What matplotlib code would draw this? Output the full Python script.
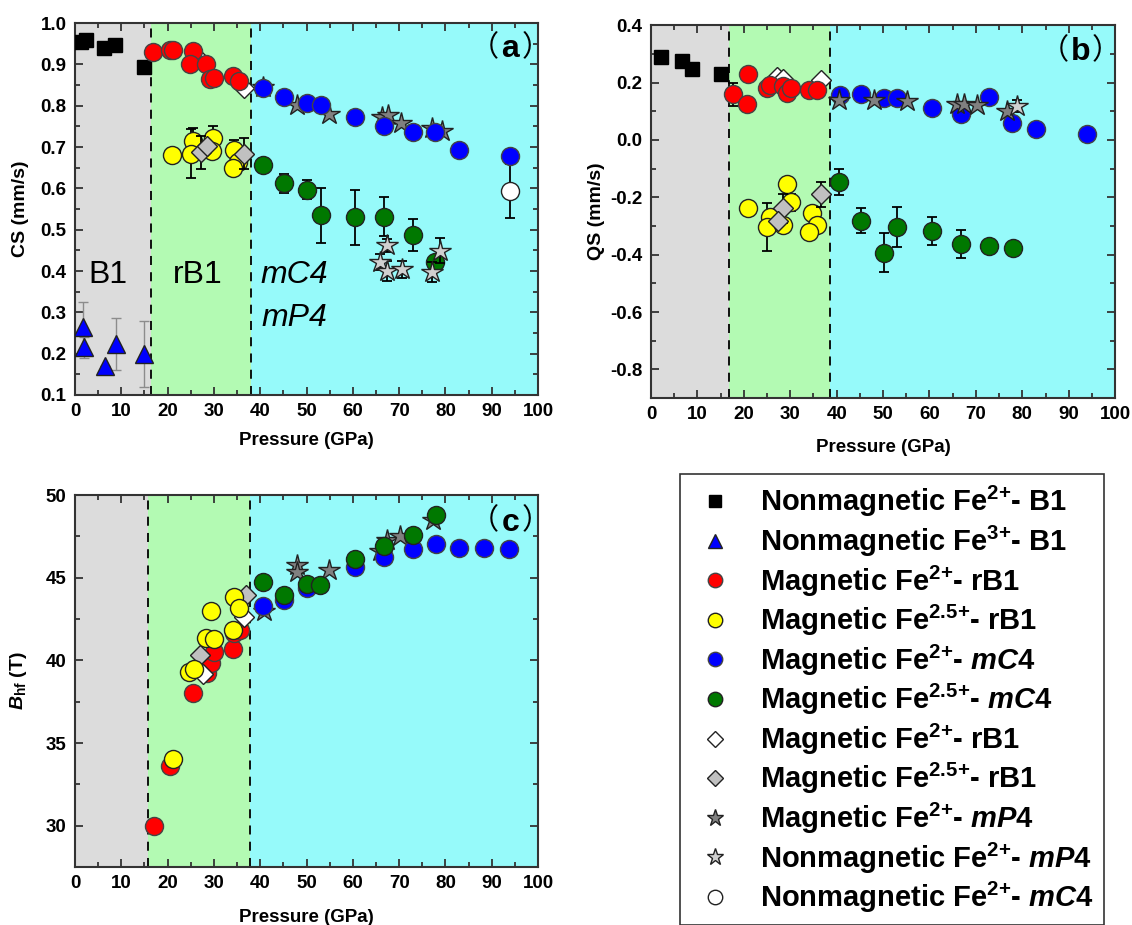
import matplotlib.pyplot as plt
from matplotlib.lines import Line2D
from matplotlib.ticker import MultipleLocator

plt.rcParams['font.family'] = ['Liberation Sans', 'Noto Sans CJK SC', 'DejaVu Sans']
plt.rcParams['mathtext.fontset'] = 'custom'
plt.rcParams['mathtext.rm'] = 'Liberation Sans:bold'
plt.rcParams['mathtext.bf'] = 'Liberation Sans:bold'
plt.rcParams['mathtext.it'] = 'Liberation Sans:bold:italic'
plt.rcParams['mathtext.default'] = 'regular'
plt.rcParams['axes.unicode_minus'] = False

# ---- (a) centre shift CS (mm/s) ----
a_b1_fe2_p = [1.3, 2.3, 6.3, 8.7, 14.9]
a_b1_fe2 = [0.955, 0.959, 0.940, 0.948, 0.895]
a_b1_fe3_p = [1.7, 1.9, 6.5, 8.8, 14.9]
a_b1_fe3 = [0.265, 0.215, 0.170, 0.224, 0.200]
a_b1_fe3_err = [0.060, 0.025, 0.0, 0.063, 0.080]
a_rb1_fe2_p = [16.9, 20.4, 21.1, 25.4, 24.8, 28.3, 29.2, 30.0, 34.1, 35.5]
a_rb1_fe2 = [0.929, 0.935, 0.935, 0.932, 0.900, 0.901, 0.864, 0.866, 0.872, 0.860]
a_rb1_fe25_p = [21.0, 25.4, 25.0, 29.9, 29.5, 34.3, 35.3, 34.2]
a_rb1_fe25 = [0.680, 0.715, 0.684, 0.721, 0.691, 0.692, 0.663, 0.650]
a_rb1_fe25_err = [0.0, 0.030, 0.060, 0.030, 0.0, 0.026, 0.0, 0.0]
a_dia_fe2_p = [26.6, 36.5]
a_dia_fe2 = [0.915, 0.842]
a_dia_fe25_p = [27.1, 28.4, 36.5]
a_dia_fe25 = [0.687, 0.703, 0.684]
a_dia_fe25_err = [0.040, 0.0, 0.037]
a_mc4_fe2_p = [40.5, 45.2, 50.2, 53.1, 60.5, 66.8, 73.1, 77.8, 83.0, 94.0]
a_mc4_fe2 = [0.844, 0.822, 0.806, 0.801, 0.772, 0.751, 0.737, 0.737, 0.694, 0.679]
a_mc4_fe25_p = [40.5, 45.2, 50.2, 53.1, 60.5, 66.8, 73.1, 77.8]
a_mc4_fe25 = [0.656, 0.613, 0.597, 0.535, 0.530, 0.531, 0.488, 0.422]
a_mc4_fe25_err = [0.008, 0.023, 0.023, 0.066, 0.067, 0.047, 0.039, 0.010]
a_mp4_mag_p = [40.6, 47.9, 54.9, 66.2, 67.5, 70.3, 77.0, 79.2]
a_mp4_mag = [0.845, 0.801, 0.781, 0.772, 0.777, 0.759, 0.747, 0.739]
a_mp4_nm_p = [67.3, 65.9, 67.3, 70.6, 77.0, 78.8]
a_mp4_nm = [0.462, 0.422, 0.400, 0.404, 0.398, 0.449]
a_mp4_nm_err = [0.015, 0.020, 0.025, 0.020, 0.025, 0.030]
a_mc4_nm_p = [94.0]
a_mc4_nm = [0.594]
a_mc4_nm_err = [0.066]

# ---- (b) quadrupole splitting QS (mm/s) ----
b_b1_fe2_p = [2.2, 6.6, 8.8, 15.1]
b_b1_fe2 = [0.290, 0.275, 0.249, 0.229]
b_rb1_fe2_p = [17.6, 21.0, 20.6, 24.9, 25.6, 28.4, 29.2, 30.1, 34.1, 35.7]
b_rb1_fe2 = [0.159, 0.229, 0.127, 0.180, 0.191, 0.187, 0.162, 0.180, 0.174, 0.174]
b_rb1_fe2_err = [0.040, 0, 0, 0, 0, 0, 0, 0, 0, 0]
b_rb1_fe25_p = [21.0, 25.6, 24.9, 29.2, 30.2, 28.5, 34.6, 35.7, 34.1]
b_rb1_fe25 = [-0.239, -0.268, -0.303, -0.154, -0.218, -0.297, -0.256, -0.297, -0.320]
b_rb1_fe25_err = [0.0, 0.0, 0.083, 0.020, 0.030, 0.0, 0.023, 0.0, 0.0]
b_dia_fe2_p = [27.1, 28.5, 36.6]
b_dia_fe2 = [0.218, 0.214, 0.208]
b_dia_fe25_p = [28.5, 27.4, 36.6]
b_dia_fe25 = [-0.239, -0.283, -0.190]
b_dia_fe25_err = [0.050, 0.0, 0.045]
b_mc4_fe2_p = [40.7, 45.3, 50.2, 52.9, 60.5, 66.7, 72.9, 77.8, 83.0, 93.9]
b_mc4_fe2 = [0.156, 0.160, 0.148, 0.145, 0.110, 0.089, 0.150, 0.058, 0.037, 0.020]
b_mc4_fe25_p = [40.6, 45.3, 50.2, 52.9, 60.5, 66.7, 72.9, 77.9]
b_mc4_fe25 = [-0.146, -0.282, -0.393, -0.303, -0.318, -0.363, -0.369, -0.378]
b_mc4_fe25_err = [0.046, 0.043, 0.068, 0.070, 0.048, 0.049, 0.0, 0.0]
b_mp4_mag_p = [40.6, 48.1, 55.1, 66.0, 67.5, 70.3, 76.7]
b_mp4_mag = [0.139, 0.139, 0.136, 0.127, 0.127, 0.121, 0.101]
b_mp4_nm_p = [78.8]
b_mp4_nm = [0.118]
b_mp4_nm_err = [0.020]

# ---- (c) hyperfine field Bhf (T) ----
c_rb1_fe2_p = [17.1, 20.5, 25.4, 28.4, 29.3, 30.0, 34.1, 34.3, 35.6]
c_rb1_fe2 = [29.96, 33.60, 38.00, 39.26, 39.86, 40.50, 40.72, 41.63, 41.87]
c_rb1_fe25_p = [21.1, 24.7, 25.6, 28.2, 30.0, 29.3, 34.1, 34.3, 35.5]
c_rb1_fe25 = [34.04, 39.30, 39.50, 41.37, 41.30, 42.97, 41.87, 43.84, 43.20]
c_dia_fe2_p = [27.7, 36.4]
c_dia_fe2 = [39.16, 42.60]
c_dia_fe25_p = [27.0, 36.9]
c_dia_fe25 = [40.30, 43.98]
c_mc4_fe2_p = [40.7, 45.2, 50.2, 60.5, 66.8, 73.1, 78.0, 83.0, 88.3, 93.8]
c_mc4_fe2 = [43.27, 43.63, 44.40, 45.64, 46.25, 46.73, 47.05, 46.79, 46.83, 46.73]
c_mc4_fe25_p = [40.5, 45.2, 50.2, 52.8, 60.5, 66.8, 73.1, 78.0]
c_mc4_fe25 = [44.74, 43.93, 44.64, 44.58, 46.14, 46.95, 47.60, 48.80]
c_mp4_mag_p = [40.8, 48.0, 48.0, 54.9, 65.9, 67.3, 70.2, 77.4]
c_mp4_mag = [42.97, 45.78, 45.32, 45.48, 46.60, 47.29, 47.53, 48.49]

# marker styles
EDGE = '#222222'
SQ = dict(marker='s', mfc='k', mec='k', ms=10)
TRI = dict(marker='^', mfc='#0000ff', mec=EDGE, ms=13)
RED = dict(marker='o', mfc='#ff0000', mec='#444444', ms=13)
YEL = dict(marker='o', mfc='#ffff00', mec=EDGE, ms=13)
BLU = dict(marker='o', mfc='#0000ff', mec='#444444', ms=13)
GRN = dict(marker='o', mfc='#007800', mec=EDGE, ms=13)
WDIA = dict(marker='D', mfc='white', mec=EDGE, ms=10)
GDIA = dict(marker='D', mfc='#c0c0c0', mec=EDGE, ms=10)
DSTAR = dict(marker='*', mfc='#808080', mec=EDGE, ms=16)
LSTAR = dict(marker='*', mfc='#d0d0d0', mec=EDGE, ms=16)
WCIR = dict(marker='o', mfc='white', mec=EDGE, ms=13)


def draw(ax, p, v, style, err=None, z=3, ecolor='k', elw=1.3):
    if err is not None:
        ax.errorbar(p, v, yerr=err, fmt='none', ecolor=ecolor, elinewidth=elw,
                    capsize=3.5, capthick=elw, zorder=z - 0.5)
    ax.plot(p, v, ls='none', mew=1.0, zorder=z, **style)


def phases(ax, b1, b2):
    ax.axvspan(0, b1, color='#dcdcdc', lw=0, zorder=0)
    ax.axvspan(b1, b2, color='#b3fab3', lw=0, zorder=0)
    ax.axvspan(b2, 100, color='#96fafa', lw=0, zorder=0)
    for b in (b1, b2):
        ax.axvline(b, color='k', ls=(0, (5, 4)), lw=1.3, zorder=1)


def frame(ax, ymaj, ymin):
    ax.set_xlim(0, 100)
    ax.xaxis.set_major_locator(MultipleLocator(10))
    ax.xaxis.set_minor_locator(MultipleLocator(5))
    ax.yaxis.set_major_locator(MultipleLocator(ymaj))
    ax.yaxis.set_minor_locator(MultipleLocator(ymin))
    ax.tick_params(which='both', direction='in', top=True, right=True,
                   width=1.3, color='#333333')
    ax.tick_params(which='major', length=6, labelsize=13.5, pad=6)
    ax.tick_params(which='minor', length=3.5)
    for lab in ax.get_xticklabels() + ax.get_yticklabels():
        lab.set_fontweight('bold')
    for s in ax.spines.values():
        s.set_linewidth(1.5)
        s.set_color('#333333')
    ax.set_xlabel('Pressure (GPa)', fontsize=13.5, fontweight='bold')


def panel_tag(ax, letter, x, y):
    # bold letter between thin full-width brackets
    ax.text(x, y, letter, transform=ax.transAxes, fontsize=23,
            fontweight='bold', ha='center', va='center')
    ax.annotate('（', (x, y), xycoords='axes fraction', xytext=(-8, 1),
                textcoords='offset points', ha='right', va='center',
                fontsize=21, family='Noto Sans CJK SC')
    ax.annotate('）', (x, y), xycoords='axes fraction', xytext=(8, 1),
                textcoords='offset points', ha='left', va='center',
                fontsize=21, family='Noto Sans CJK SC')


fig = plt.figure(figsize=(11.32, 9.25), dpi=100)
ax_a = fig.add_axes([0.0663, 0.573, 0.409, 0.402])
ax_b = fig.add_axes([0.5751, 0.5697, 0.41, 0.403])
ax_c = fig.add_axes([0.0663, 0.0627, 0.409, 0.402])

# (a)
phases(ax_a, 16.5, 38.0)
draw(ax_a, a_b1_fe2_p, a_b1_fe2, SQ)
draw(ax_a, a_b1_fe3_p, a_b1_fe3, TRI, a_b1_fe3_err, ecolor='#8c8c8c', elw=1.0)
draw(ax_a, a_dia_fe2_p, a_dia_fe2, WDIA, z=3)
draw(ax_a, a_rb1_fe2_p, a_rb1_fe2, RED, z=4)
draw(ax_a, a_rb1_fe25_p, a_rb1_fe25, YEL, a_rb1_fe25_err, z=4)
draw(ax_a, a_dia_fe25_p, a_dia_fe25, GDIA, a_dia_fe25_err, z=5)
draw(ax_a, a_mp4_mag_p, a_mp4_mag, DSTAR, z=3)
draw(ax_a, a_mc4_fe2_p, a_mc4_fe2, BLU, z=4)
draw(ax_a, a_mc4_fe25_p, a_mc4_fe25, GRN, a_mc4_fe25_err, z=4)
draw(ax_a, a_mp4_nm_p, a_mp4_nm, LSTAR, a_mp4_nm_err, z=5)
draw(ax_a, a_mc4_nm_p, a_mc4_nm, WCIR, a_mc4_nm_err, z=4)
ax_a.set_ylim(0.1, 1.0)
frame(ax_a, 0.1, 0.05)
ax_a.set_ylabel('CS (mm/s)', fontsize=14, fontweight='bold')
ax_a.text(7.1, 0.39, 'B1', fontsize=23, ha='center', va='center')
ax_a.text(26.6, 0.39, 'rB1', fontsize=23, ha='center', va='center')
ax_a.text(47.3, 0.39, 'mC4', fontsize=23, ha='center', va='center', style='italic')
ax_a.text(47.3, 0.286, 'mP4', fontsize=23, ha='center', va='center', style='italic')
panel_tag(ax_a, 'a', 0.94, 0.93)

# (b)
phases(ax_b, 16.8, 38.5)
draw(ax_b, b_b1_fe2_p, b_b1_fe2, SQ)
draw(ax_b, b_dia_fe2_p, b_dia_fe2, WDIA, z=3)
draw(ax_b, b_rb1_fe2_p, b_rb1_fe2, RED, b_rb1_fe2_err, z=4)
draw(ax_b, b_rb1_fe25_p, b_rb1_fe25, YEL, b_rb1_fe25_err, z=4)
draw(ax_b, b_dia_fe25_p, b_dia_fe25, GDIA, b_dia_fe25_err, z=5)
draw(ax_b, b_mc4_fe2_p, b_mc4_fe2, BLU, z=3)
draw(ax_b, b_mp4_mag_p, b_mp4_mag, DSTAR, z=4)
draw(ax_b, b_mp4_nm_p, b_mp4_nm, LSTAR, b_mp4_nm_err, z=4)
draw(ax_b, b_mc4_fe25_p, b_mc4_fe25, GRN, b_mc4_fe25_err, z=4)
ax_b.set_ylim(-0.9, 0.4)
frame(ax_b, 0.2, 0.1)
ax_b.yaxis.set_major_formatter(plt.FuncFormatter(lambda v, p: f'{v:.1f}'))
ax_b.set_ylabel('QS (mm/s)', fontsize=14, fontweight='bold')
panel_tag(ax_b, 'b', 0.925, 0.927)

# (c)
phases(ax_c, 15.7, 37.8)
draw(ax_c, c_rb1_fe2_p, c_rb1_fe2, RED, z=3)
draw(ax_c, c_dia_fe2_p, c_dia_fe2, WDIA, z=3)
draw(ax_c, c_rb1_fe25_p, c_rb1_fe25, YEL, z=4)
draw(ax_c, c_dia_fe25_p, c_dia_fe25, GDIA, z=3)
draw(ax_c, c_mp4_mag_p, c_mp4_mag, DSTAR, z=3)
draw(ax_c, c_mc4_fe2_p, c_mc4_fe2, BLU, z=4)
draw(ax_c, c_mc4_fe25_p, c_mc4_fe25, GRN, z=5)
ax_c.set_ylim(27.5, 50)
frame(ax_c, 5, 2.5)
ax_c.set_ylabel(r'$\mathit{B}_{hf}$ (T)', fontsize=14, fontweight='bold')
panel_tag(ax_c, 'c', 0.94, 0.925)

for ax, xl, yl in ((ax_a, -0.10, -0.10), (ax_b, -0.11, -0.10), (ax_c, -0.113, -0.10)):
    ax.xaxis.set_label_coords(0.5, xl)
    ax.yaxis.set_label_coords(yl, 0.5)

# legend
styles = [SQ, TRI, RED, YEL, BLU, GRN, WDIA, GDIA, DSTAR, LSTAR, WCIR]
labels = [
    r'Nonmagnetic Fe$^{2\!+}\!$- B1',
    r'Nonmagnetic Fe$^{3\!+}\!$- B1',
    r'Magnetic Fe$^{2\!+}\!$- rB1',
    r'Magnetic Fe$^{2.5\!+}\!$- rB1',
    r'Magnetic Fe$^{2\!+}\!$- $\mathit{mC}$4',
    r'Magnetic Fe$^{2.5\!+}\!$- $\mathit{mC}$4',
    r'Magnetic Fe$^{2\!+}\!$- rB1',
    r'Magnetic Fe$^{2.5\!+}\!$- rB1',
    r'Magnetic Fe$^{2\!+}\!$- $\mathit{mP}$4',
    r'Nonmagnetic Fe$^{2\!+}\!$- $\mathit{mP}$4',
    r'Nonmagnetic Fe$^{2\!+}\!$- $\mathit{mC}$4',
]
handles = []
for st in styles:
    s = dict(st)
    s['ms'] = s['ms'] * 0.8
    handles.append(Line2D([], [], ls='none', mew=1.0, **s))
leg = fig.legend(handles, labels, loc='upper left',
                 bbox_to_anchor=(680 / 1132, 1 - 474 / 925),
                 prop={'weight': 'bold', 'size': 21}, frameon=True,
                 fancybox=False, edgecolor='#333333', framealpha=1,
                 handlelength=1.7, handletextpad=0.7, borderpad=0.35,
                 labelspacing=0.15, borderaxespad=0)
leg.get_frame().set_linewidth(1.2)

fig.savefig('out.png', dpi=100)
